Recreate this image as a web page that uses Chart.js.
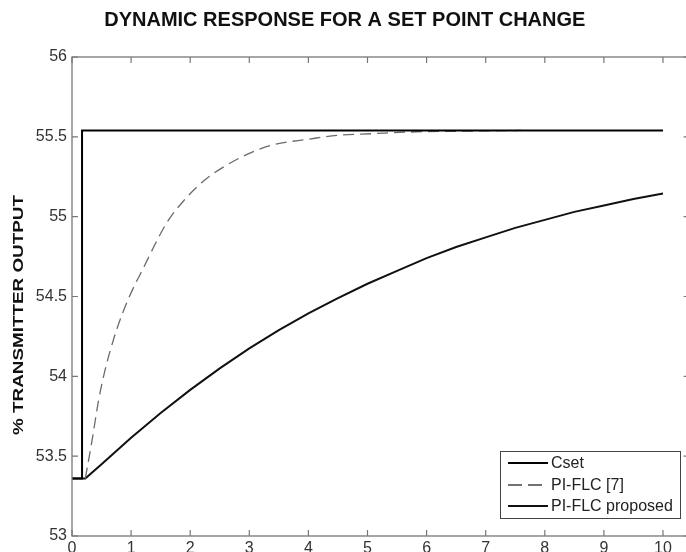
<!DOCTYPE html>
<html><head><meta charset="utf-8">
<script src="https://cdn.jsdelivr.net/npm/chart.js@4.4.1/dist/chart.umd.min.js"></script>
<style>
html,body{margin:0;padding:0;overflow:hidden;background:#fff;width:686px;height:552px}
#wrap{position:absolute;left:0;top:0;width:700px;height:552px}
</style>
</head><body><div id="wrap"><canvas id="c" width="700" height="552"></canvas></div>
<script>
const chartTitle = 'DYNAMIC RESPONSE FOR A SET POINT CHANGE';
const yAxisLabel = '% TRANSMITTER OUTPUT';
const seriesNames = ['Cset', 'PI-FLC [7]', 'PI-FLC proposed'];
const xTicks = [0,1,2,3,4,5,6,7,8,9,10];
const yTicks = [53,53.5,54,54.5,55,55.5,56];
const yTickLabels = ['53','53.5','54','54.5','55','55.5','56'];

const csetT = [0, 0.17, 0.17, 10];
const csetV = [53.36, 53.36, 55.54, 55.54];

const piflcT = [0.225, 0.34, 0.45, 0.56, 0.71, 0.85, 1.02, 1.21, 1.41, 1.6, 1.89, 2.23, 2.56, 2.96, 3.4, 4, 4.5, 5.1, 5.7, 6.5, 7.6];
const piflcV = [53.36, 53.60, 53.85, 54.04, 54.24, 54.39, 54.54, 54.68, 54.83, 54.96, 55.10, 55.225, 55.31, 55.39, 55.45, 55.485, 55.51, 55.52, 55.53, 55.535, 55.54];

const propT = [0, 0.225, 0.5, 1, 1.5, 2, 2.5, 3, 3.5, 4, 4.5, 5, 5.5, 6, 6.5, 7, 7.5, 8, 8.5, 9, 9.5, 10];
const propV = [53.36, 53.36, 53.45, 53.615, 53.77, 53.915, 54.05, 54.175, 54.29, 54.395, 54.49, 54.58, 54.66, 54.74, 54.81, 54.87, 54.93, 54.98, 55.03, 55.07, 55.11, 55.145];

const zip = (t, v) => t.map((x, i) => ({x: x, y: v[i]}));
const FONT = "'Liberation Sans', Arial, Helvetica, sans-serif";

const styles = [
  {color: '#000', width: 2, dash: []},
  {color: '#6a6a6a', width: 1.3, dash: [11, 6]},
  {color: '#111', width: 2, dash: []}
];

const boxPlugin = {
  id: 'matlabBox',
  afterDraw(chart) {
    const ctx = chart.ctx, a = chart.chartArea;
    const xs = chart.scales.x, ys = chart.scales.y;
    ctx.save();
    ctx.strokeStyle = '#777';
    ctx.lineWidth = 1.3;
    ctx.setLineDash([]);
    ctx.strokeRect(a.left, a.top, a.right - a.left, a.bottom - a.top);
    ctx.lineWidth = 1.2;
    ctx.beginPath();
    const tl = 6;
    xTicks.forEach(v => {
      const px = xs.getPixelForValue(v);
      ctx.moveTo(px, a.bottom); ctx.lineTo(px, a.bottom - tl);
      ctx.moveTo(px, a.top); ctx.lineTo(px, a.top + tl);
    });
    yTicks.forEach(v => {
      const py = ys.getPixelForValue(v);
      ctx.moveTo(a.left, py); ctx.lineTo(a.left + tl, py);
      ctx.moveTo(a.right, py); ctx.lineTo(a.right - tl, py);
    });
    ctx.stroke();

    // y-axis title
    ctx.save();
    ctx.translate(23, 315);
    ctx.rotate(-Math.PI / 2);
    ctx.font = 'bold 15px ' + FONT;
    const w = ctx.measureText(yAxisLabel).width;
    ctx.scale(240 / w, 1);
    ctx.fillStyle = '#111';
    ctx.textAlign = 'center';
    ctx.textBaseline = 'alphabetic';
    ctx.fillText(yAxisLabel, 0, 0);
    ctx.restore();

    // legend
    const lx = 500.5, ly = 451.5, lw = 180, lh = 67;
    ctx.fillStyle = '#fff';
    ctx.fillRect(lx, ly, lw, lh);
    ctx.strokeStyle = '#444';
    ctx.lineWidth = 1;
    ctx.strokeRect(lx, ly, lw, lh);
    const rows = [463, 485, 506];
    ctx.font = '16px ' + FONT;
    ctx.textBaseline = 'middle';
    ctx.textAlign = 'left';
    seriesNames.forEach((name, i) => {
      const s = styles[i];
      ctx.beginPath();
      ctx.strokeStyle = i === 1 ? '#444' : s.color;
      ctx.lineWidth = i === 1 ? 1.3 : 2;
      ctx.setLineDash(i === 1 ? [14, 6] : []);
      ctx.moveTo(508, rows[i]); ctx.lineTo(548, rows[i]);
      ctx.stroke();
      ctx.setLineDash([]);
      ctx.fillStyle = '#222';
      ctx.fillText(name, 551, rows[i] + 1);
    });
    ctx.restore();
  }
};

new Chart(document.getElementById('c'), {
  type: 'line',
  data: {
    datasets: [
      {label: seriesNames[0], data: zip(csetT, csetV), borderColor: styles[0].color, borderWidth: styles[0].width, tension: 0, pointRadius: 0, fill: false},
      {label: seriesNames[1], data: zip(piflcT, piflcV), borderColor: styles[1].color, borderWidth: styles[1].width, borderDash: styles[1].dash, cubicInterpolationMode: 'monotone', pointRadius: 0, fill: false},
      {label: seriesNames[2], data: zip(propT, propV), borderColor: styles[2].color, borderWidth: styles[2].width, tension: 0, pointRadius: 0, fill: false}
    ]
  },
  options: {
    responsive: false,
    animation: false,
    devicePixelRatio: 1,
    layout: {padding: {left: 0, right: 10.4, top: 0, bottom: 0}},
    plugins: {
      legend: {display: false},
      tooltip: {enabled: false},
      title: {
        display: true, text: chartTitle, color: '#111',
        font: {family: FONT, size: 20, weight: 'bold'},
        padding: {top: 8, bottom: 25}
      }
    },
    scales: {
      x: {
        type: 'linear', min: 0, max: 10.45,
        grid: {display: false, drawTicks: false},
        border: {display: false},
        afterBuildTicks: s => { s.ticks = xTicks.map(v => ({value: v})); },
        afterFit: s => { s.height = 16; },
        ticks: {font: {family: FONT, size: 16}, color: '#333', padding: 3, maxRotation: 0, autoSkip: false,
                callback: v => String(v)}
      },
      y: {
        type: 'linear', min: 53, max: 56,
        grid: {display: false, drawTicks: false},
        border: {display: false},
        afterBuildTicks: s => { s.ticks = yTicks.map(v => ({value: v})); },
        afterFit: s => { s.width = 72; },
        ticks: {font: {family: FONT, size: 16}, color: '#333', padding: 5,
                callback: (v, i) => yTickLabels[i]}
      }
    }
  },
  plugins: [boxPlugin]
});
</script>
</body></html>
